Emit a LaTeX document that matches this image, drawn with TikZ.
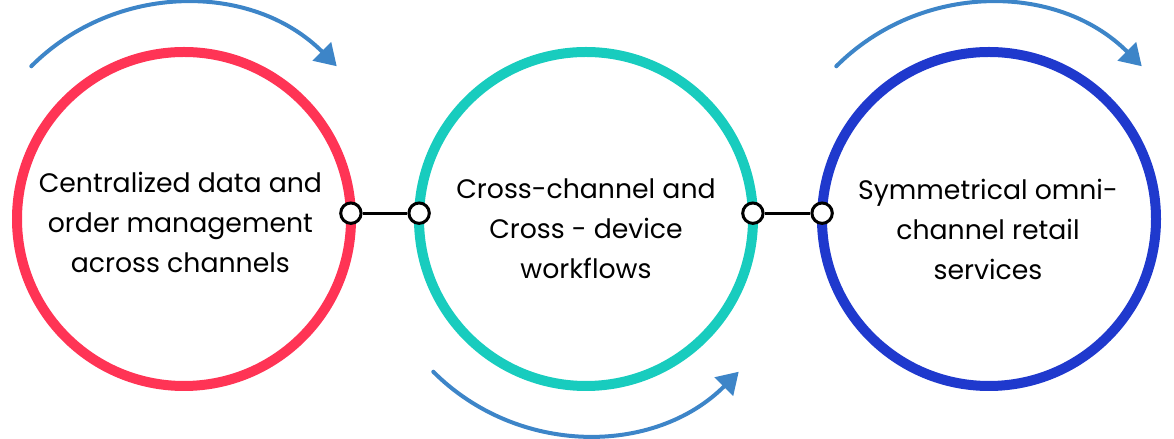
\documentclass[tikz,border=0pt]{standalone}
\usepackage{fontspec}
\setmainfont{Poppins}
\usepackage{tikz}
\usetikzlibrary{arrows.meta}

\definecolor{ringred}{RGB}{255,52,85}
\definecolor{ringteal}{RGB}{24,204,190}
\definecolor{ringblue}{RGB}{31,57,205}
\definecolor{arcblue}{RGB}{61,133,200}

\tikzset{
 ring/.style={circle,draw=#1,line width=0.25cm,minimum size=8.35cm,inner sep=0pt,outer sep=0pt},
 knob/.style={circle,draw=black,fill=white,line width=0.075cm,minimum size=0.51cm,inner sep=0pt},
 txt/.style={align=center,text=black},
 turn/.style={draw=arcblue,line width=0.1cm,line cap=round}
}

\begin{document}
\begin{tikzpicture}[>={Triangle[length=0.53cm,width=0.64cm]},font=\fontsize{19}{28.45}\selectfont]
 \useasboundingbox (0,0) rectangle (29.35,10.975);

 % Rings
 \node[ring=ringred] (cent) at (4.6,5.5) {};
 \node[ring=ringteal] (cross) at (14.65,5.5) {};
 \node[ring=ringblue] (sym) at (24.725,5.5) {};

 % Texts
 \node[txt] (cent-txt) at (4.51,5.425) {Centralized data and\\order management\\across channels};
 \node[txt] (cross-txt) at (14.65,5.25) {Cross-channel and\\Cross - device\\workflows};
 \node[txt] (sym-txt) at (24.7,5.25) {Symmetrical omni-\\channel retail\\services};

 % Links
 \node[knob] (cent-r) at (cent.2) {};
 \node[knob] (cross-l) at (cross.178) {};
 \node[knob] (cross-r) at (cross.2) {};
 \node[knob] (sym-l) at (sym.178) {};
 \draw[line width=0.075cm] (cent-r) -- (cross-l);
 \draw[line width=0.075cm] (cross-r) -- (sym-l);

 % Turning arrows
 \draw[turn,->] (cent.center)++(135:5.4) arc[start angle=135,end angle=45,radius=5.4];
 \draw[turn,->] (cross.center)++(225:5.4) arc[start angle=225,end angle=315,radius=5.4];
 \draw[turn,->] (sym.center)++(135:5.4) arc[start angle=135,end angle=45,radius=5.4];
\end{tikzpicture}
\end{document}
